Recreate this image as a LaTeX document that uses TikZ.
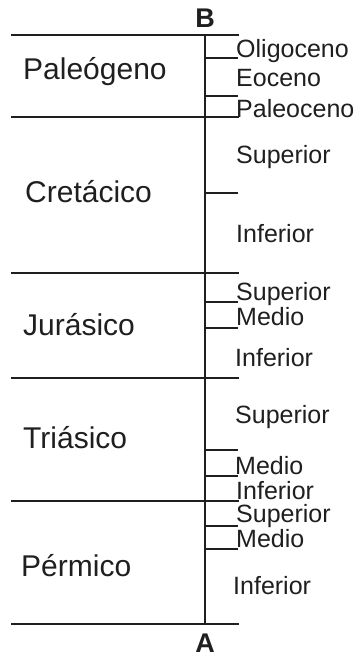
\documentclass[tikz,border=0pt]{standalone}
\usepackage{fontspec}
\setmainfont{Liberation Sans}
\begin{document}
\begin{tikzpicture}[x=1pt,y=-1pt,
  rule/.style={line width=2.1pt, color=black!88},
  period/.style={anchor=west, inner sep=0pt, font=\fontsize{30}{30}\selectfont, text height=21pt, text depth=0pt, text=black!88},
  sub/.style={anchor=west, inner sep=0pt, font=\fontsize{25}{25}\selectfont, text height=18pt, text depth=0pt, text=black!88},
  endlbl/.style={inner sep=0pt, font=\fontsize{27}{27}\selectfont\bfseries, text height=19.5pt, text depth=0pt, text=black!88}]
\useasboundingbox (0,0) rectangle (356,657);
% boundaries
\foreach \n/\y in {b0/35,b1/117,b2/273,b3/378,b4/501,b5/624}{
  \coordinate (\n L) at (11,\y);
  \coordinate (\n R) at (239,\y);
  \coordinate (\n M) at (205,\y);
  \draw[rule] (\n L) -- (\n R);
}
% axis
\draw[rule] (b0M) -- (b5M);
% ticks
\foreach \n/\y in {t1/58,t2/96,t3/193,t4/302,t5/328,t6/450,t7/476,t8/526,t9/549}{
  \coordinate (\n a) at (205,\y);
  \coordinate (\n b) at (238,\y);
  \draw[rule] (\n a) -- (\n b);
}
% end labels
\node[endlbl] (B) at (205,18) {B};
\node[endlbl] (A) at (205,643) {A};
% periods
\node[period] (pal) at (23,69) {Paleógeno};
\node[period] (cre) at (25,192) {Cretácico};
\node[period] (jur) at (23,325) {Jurásico};
\node[period] (tri) at (23,438) {Triásico};
\node[period] (per) at (21,566) {Pérmico};
% sub-divisions
\node[sub] (s1) at (236,48) {Oligoceno};
\node[sub] (s2) at (236,77) {Eoceno};
\node[sub] (s3) at (236,108) {Paleoceno};
\node[sub] (s4) at (236,154) {Superior};
\node[sub] (s5) at (236,233) {Inferior};
\node[sub] (s6) at (236,291) {Superior};
\node[sub] (s7) at (236,316) {Medio};
\node[sub] (s8) at (235,357) {Inferior};
\node[sub] (s9) at (235,414) {Superior};
\node[sub] (s10) at (235,465) {Medio};
\node[sub] (s11) at (236,490) {Inferior};
\node[sub] (s12) at (236,513) {Superior};
\node[sub] (s13) at (236,538) {Medio};
\node[sub] (s14) at (233,585) {Inferior};
\end{tikzpicture}
\end{document}
